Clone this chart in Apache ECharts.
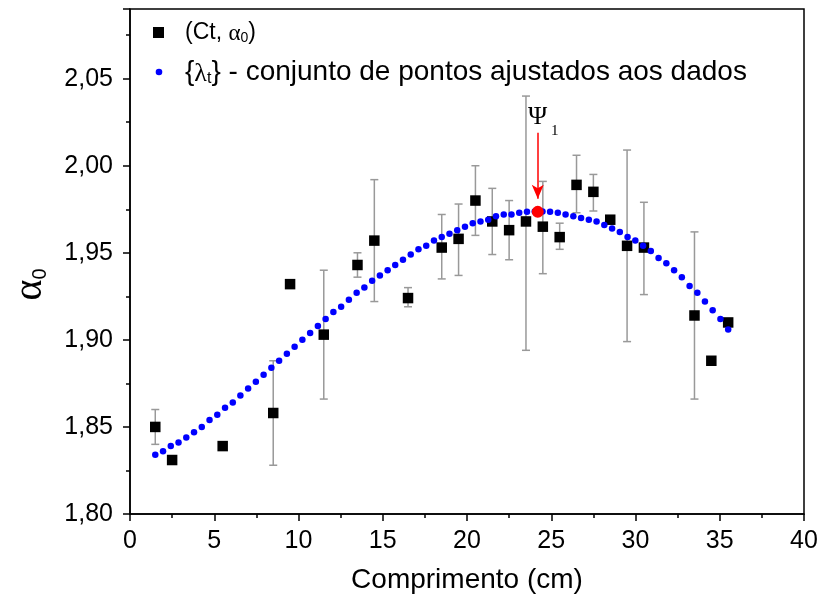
<!DOCTYPE html>
<html>
<head>
<meta charset="utf-8">
<title>alpha0 x comprimento</title>
<script src="https://cdn.jsdelivr.net/npm/echarts@6/dist/echarts.min.js"></script>
<style>
    html, body { margin: 0; padding: 0; background: #fff; }
    #chart1 { width: 821px; height: 602px; }
</style>
</head>
<body>
<div id="chart1"></div>
<script>
var myChart;
// medidas (Ct, alpha0)
var ctX = [1.5, 2.5, 5.5, 8.5, 9.5, 11.5, 13.5, 14.5, 16.5, 18.5, 19.5, 20.5, 21.5, 22.5, 23.5, 24.5, 25.5, 26.5, 27.5, 28.5, 29.5, 30.5, 33.5, 34.5, 35.5];
var alpha0 = [1.850, 1.831, 1.839, 1.858, 1.932, 1.903, 1.943, 1.957, 1.924, 1.953, 1.958, 1.980, 1.968, 1.963, 1.968, 1.965, 1.959, 1.989, 1.985, 1.969, 1.954, 1.953, 1.914, 1.888, 1.910];
var errLow = [1.840, null, null, 1.828, 1.930, 1.866, 1.936, 1.922, 1.919, 1.935, 1.937, 1.960, 1.949, 1.946, 1.894, 1.938, 1.952, 1.973, 1.974, null, 1.899, 1.926, 1.866, null, null];
var errHigh = [1.860, null, null, 1.888, 1.934, 1.940, 1.950, 1.992, 1.930, 1.972, 1.978, 2.000, 1.987, 1.980, 2.040, 1.991, 1.967, 2.006, 1.995, null, 2.009, 1.979, 1.962, null, null];
// pontos ajustados {lambda_t}
var fitX = [1.50, 1.96, 2.42, 2.88, 3.34, 3.80, 4.26, 4.72, 5.18, 5.64, 6.10, 6.55, 7.01, 7.47, 7.93, 8.39, 8.85, 9.31, 9.77, 10.23,
    10.69, 11.15, 11.61, 12.07, 12.53, 12.99, 13.45, 13.91, 14.37, 14.83, 15.29, 15.74, 16.20, 16.66, 17.12, 17.58, 18.04, 18.50, 18.96, 19.42,
    19.88, 20.34, 20.80, 21.26, 21.72, 22.18, 22.64, 23.10, 23.56, 24.02, 24.48, 24.93, 25.39, 25.85, 26.31, 26.77, 27.23, 27.69, 28.15, 28.61,
    29.07, 29.53, 29.99, 30.45, 30.91, 31.37, 31.83, 32.29, 32.75, 33.21, 33.67, 34.12, 34.58, 35.04, 35.50];
var fitY = [1.834, 1.836, 1.839, 1.841, 1.844, 1.847, 1.850, 1.854, 1.857, 1.861, 1.864, 1.868, 1.872, 1.876, 1.880, 1.884, 1.888, 1.892, 1.896, 1.900,
    1.904, 1.908, 1.912, 1.916, 1.919, 1.923, 1.927, 1.930, 1.934, 1.937, 1.940, 1.943, 1.946, 1.949, 1.952, 1.954, 1.957, 1.959, 1.961, 1.963,
    1.965, 1.967, 1.968, 1.969, 1.971, 1.972, 1.972, 1.973, 1.9735, 1.9737, 1.9737, 1.9735, 1.973, 1.972, 1.971, 1.970, 1.969, 1.968, 1.966, 1.964,
    1.962, 1.959, 1.957, 1.954, 1.951, 1.947, 1.944, 1.940, 1.936, 1.931, 1.927, 1.922, 1.917, 1.912, 1.906];
// maximo Psi_1
var psiPoint = [24.2, 1.9735];
var arrowFrom = [24.2, 2.019];
var arrowTo = [24.2, 1.981];
var xTicks = [0, 40, 5];
var yTicks = [1.80, 2.09, 0.05];

initChart();

function zipXY(xs, ys) {
    var out = [];
    for (var i = 0; i < xs.length; i++) {
        out.push([xs[i], ys[i]]);
    }
    return out;
}
function errData() {
    var out = [];
    for (var i = 0; i < ctX.length; i++) {
        if (errLow[i] != null) out.push([ctX[i], errLow[i], errHigh[i]]);
    }
    return out;
}
function renderErr(params, api) {
    var top = api.coord([api.value(0), api.value(2)]);
    var bot = api.coord([api.value(0), api.value(1)]);
    var hw = 4;
    var st = { stroke: '#999999', lineWidth: 1.5 };
    return {
        type: 'group',
        children: [
            { type: 'line', shape: { x1: top[0], y1: top[1], x2: bot[0], y2: bot[1] }, style: st },
            { type: 'line', shape: { x1: top[0] - hw, y1: top[1], x2: top[0] + hw, y2: top[1] }, style: st },
            { type: 'line', shape: { x1: bot[0] - hw, y1: bot[1], x2: bot[0] + hw, y2: bot[1] }, style: st }
        ]
    };
}
function initChart() {
    var font = 'Liberation Sans';
    var option = {
        animation: false,
        backgroundColor: '#fff',
        grid: {
            left: 130,
            right: 17,
            top: 9,
            bottom: 88,
            show: true,
            borderColor: '#000',
            borderWidth: 1.5
        },
        xAxis: {
            type: 'value',
            min: xTicks[0],
            max: xTicks[1],
            interval: xTicks[2],
            name: 'Comprimento (cm)',
            nameLocation: 'middle',
            nameGap: 52,
            nameTextStyle: { fontFamily: font, fontSize: 28, color: '#000' },
            axisLine: { lineStyle: { color: '#000', width: 1.5 } },
            axisTick: { length: 7, lineStyle: { color: '#000', width: 1.5 } },
            minorTick: { show: true, splitNumber: 2, length: 4, lineStyle: { color: '#000', width: 1.5 } },
            axisLabel: { fontFamily: font, fontSize: 25, color: '#000', margin: 15 },
            splitLine: { show: false }
        },
        yAxis: {
            type: 'value',
            min: yTicks[0],
            max: yTicks[1],
            interval: yTicks[2],
            name: '{g|α}{s|0}',
            nameLocation: 'middle',
            nameGap: 80,
            nameRotate: 90,
            nameTextStyle: {
                padding: [0, 46, 0, 0],
                rich: {
                    g: { fontFamily: 'Liberation Serif', fontSize: 40, color: '#000', lineHeight: 40, verticalAlign: 'bottom' },
                    s: { fontFamily: font, fontSize: 20, color: '#000', lineHeight: 20, verticalAlign: 'bottom' }
                }
            },
            axisLine: { lineStyle: { color: '#000', width: 1.5 } },
            axisTick: { length: 7, lineStyle: { color: '#000', width: 1.5 } },
            minorTick: { show: true, splitNumber: 2, length: 4, lineStyle: { color: '#000', width: 1.5 } },
            axisLabel: {
                fontFamily: font,
                fontSize: 25,
                color: '#000',
                margin: 17,
                showMaxLabel: false,
                formatter: function (v) { return v.toFixed(2).replace('.', ','); }
            },
            splitLine: { show: false }
        },
        series: [
            {
                name: 'erro',
                type: 'custom',
                renderItem: renderErr,
                data: errData(),
                z: 1
            },
            {
                name: '(Ct, α0)',
                type: 'scatter',
                symbol: 'rect',
                symbolSize: 10.5,
                itemStyle: { color: '#000', opacity: 1 },
                data: zipXY(ctX, alpha0),
                z: 2
            },
            {
                name: 'lambda',
                type: 'scatter',
                symbol: 'circle',
                symbolSize: 6.5,
                itemStyle: { color: '#0000ff', opacity: 1 },
                data: zipXY(fitX, fitY),
                z: 3
            },
            {
                name: 'Psi',
                type: 'scatter',
                symbol: 'circle',
                symbolSize: 12,
                itemStyle: { color: '#ff0000', opacity: 1 },
                data: [psiPoint],
                z: 4,
                markLine: {
                    silent: true,
                    symbol: ['none', 'arrow'],
                    symbolSize: [9, 14],
                    label: { show: false },
                    lineStyle: { color: '#ff0000', width: 1.5, type: 'solid' },
                    data: [[{ coord: arrowFrom }, { coord: arrowTo }]]
                }
            }
        ],
        graphic: [
            // legenda
            { type: 'rect', left: 153, top: 27, shape: { width: 11, height: 11 }, style: { fill: '#000' } },
            { type: 'circle', shape: { cx: 159, cy: 72, r: 3.3 }, style: { fill: '#0000ff' } },
            {
                type: 'text', left: 185, top: 21,
                style: {
                    text: '(Ct, {g|α}{s|0})',
                    font: '23px "Liberation Sans"',
                    fill: '#000',
                    rich: {
                        g: { fontFamily: 'Liberation Serif', fontSize: 23, lineHeight: 26, verticalAlign: 'bottom' },
                        s: { fontFamily: font, fontSize: 14, lineHeight: 14, verticalAlign: 'bottom' }
                    }
                }
            },
            {
                type: 'text', left: 185, top: 58,
                style: {
                    text: '{{g|λ}{s|t}} - conjunto de pontos ajustados aos dados',
                    font: '28px "Liberation Sans"',
                    fill: '#000',
                    rich: {
                        g: { fontFamily: 'Liberation Serif', fontSize: 26, lineHeight: 30, verticalAlign: 'bottom' },
                        s: { fontFamily: font, fontSize: 16, lineHeight: 16, verticalAlign: 'bottom' }
                    }
                }
            },
            { type: 'text', left: 528, top: 104, style: { text: 'Ψ', font: '26px "Liberation Serif"', fill: '#000' } },
            { type: 'text', left: 551, top: 124, style: { text: '1', font: '15px "Liberation Serif"', fill: '#000' } }
        ]
    };
    myChart = echarts.init(document.getElementById('chart1'));
    myChart.setOption(option);
}
</script>
</body>
</html>
